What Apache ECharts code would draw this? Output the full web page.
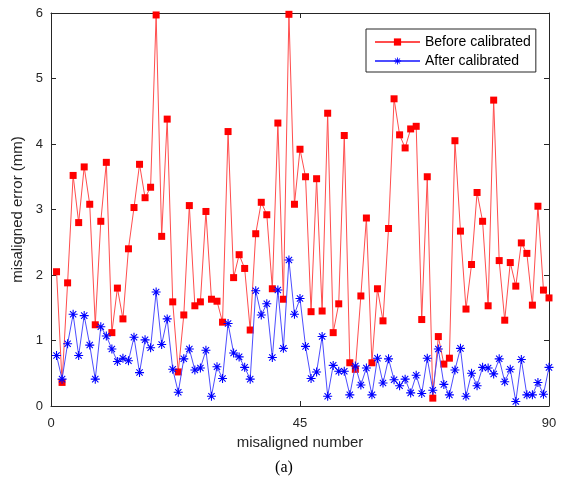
<!DOCTYPE html>
<html>
<head>
<meta charset="utf-8">
<script src="https://cdn.jsdelivr.net/npm/echarts@6/dist/echarts.min.js"></script>
<style>
	html, body { margin: 0; padding: 0; background: #fff; }
	#chart { width: 568px; height: 486px; }
</style>
</head>
<body>
<div id="chart"></div>
<script>
// values, index 1..90
const beforeCalibrated = [
	2.05, 0.36, 1.88, 3.52, 2.80, 3.65, 3.08, 1.24, 2.82, 3.72,
	1.12, 1.80, 1.33, 2.40, 3.03, 3.69, 3.18, 3.34, 5.97, 2.59,
	4.38, 1.59, 0.52, 1.39, 3.06, 1.53, 1.59, 2.97, 1.63, 1.60,
	1.28, 4.19, 1.96, 2.31, 2.10, 1.16, 2.63, 3.11, 2.92, 1.79,
	4.32, 1.63, 5.98, 3.08, 3.92, 3.50, 1.44, 3.47, 1.45, 4.47,
	1.12, 1.56, 4.13, 0.66, 0.56, 1.68, 2.87, 0.66, 1.79, 1.30,
	2.71, 4.69, 4.14, 3.94, 4.23, 4.27, 1.32, 3.50, 0.12, 1.06,
	0.64, 0.73, 4.05, 2.67, 1.48, 2.16, 3.26, 2.82, 1.53, 4.67,
	2.22, 1.31, 2.19, 1.83, 2.49, 2.33, 1.54, 3.05, 1.77, 1.65
];
const afterCalibrated = [
	0.77, 0.41, 0.95, 1.40, 0.77, 1.38, 0.93, 0.41, 1.21, 1.07,
	0.87, 0.68, 0.73, 0.69, 1.05, 0.51, 1.01, 0.89, 1.74, 0.94,
	1.33, 0.56, 0.21, 0.72, 0.87, 0.55, 0.58, 0.85, 0.15, 0.60,
	0.42, 1.26, 0.81, 0.75, 0.59, 0.41, 1.76, 1.39, 1.56, 0.74,
	1.77, 0.88, 2.23, 1.40, 1.64, 0.91, 0.42, 0.52, 1.06, 0.15,
	0.62, 0.53, 0.53, 0.17, 0.61, 0.32, 0.58, 0.17, 0.73, 0.35,
	0.72, 0.40, 0.31, 0.41, 0.20, 0.47, 0.19, 0.73, 0.24, 0.87,
	0.33, 0.17, 0.55, 0.88, 0.15, 0.50, 0.31, 0.59, 0.58, 0.49,
	0.72, 0.37, 0.56, 0.07, 0.71, 0.17, 0.17, 0.36, 0.18, 0.59
];
const xTicks = [0, 45, 90];
const yTicks = [0, 1, 2, 3, 4, 5, 6];

const FONT = '"Liberation Sans", Arial, sans-serif';
const AXIS_COLOR = '#262626';
// asterisk built from thin filled bars so it draws the same in the legend
const ASTERISK = 'path://M0,4.4L10,4.4L10,5.6L0,5.6Z' +
	'M4.4,0L5.6,0L5.6,10L4.4,10Z' +
	'M1.92,1.08L8.92,8.08L8.08,8.92L1.08,1.92Z' +
	'M8.92,1.92L1.92,8.92L1.08,8.08L8.08,1.08Z';

function toPoints(values) {
	return values.map((v, i) => [i + 1, v]);
}

function boxAxis(base, extra) {
	return Object.assign({
		type: 'value',
		axisLine: { show: true, onZero: false, lineStyle: { color: AXIS_COLOR, width: 1 } },
		axisTick: { show: true, inside: true, length: 5, lineStyle: { color: AXIS_COLOR } },
		splitLine: { show: false },
		axisLabel: { show: false }
	}, base, extra);
}

const xRange = { min: xTicks[0], max: xTicks[xTicks.length - 1], interval: xTicks[1] - xTicks[0] };
const yRange = { min: yTicks[0], max: yTicks[yTicks.length - 1], interval: yTicks[1] - yTicks[0] };

const chart = echarts.init(document.getElementById('chart'));

chart.setOption({
	animation: false,
	backgroundColor: '#fff',
	textStyle: { fontFamily: FONT },
	title: {
		text: '(a)',
		left: 'center',
		top: 455,
		textStyle: { fontFamily: '"Liberation Serif", "Times New Roman", serif', fontSize: 16, fontWeight: 'normal', color: '#000' }
	},
	grid: { left: 51, right: 19, top: 13, bottom: 80 },
	legend: {
		left: 366,
		top: 29,
		orient: 'vertical',
		backgroundColor: '#fff',
		borderColor: AXIS_COLOR,
		borderWidth: 1,
		borderRadius: 0,
		padding: [6, 5, 4, 8],
		itemGap: 5,
		itemWidth: 45,
		itemHeight: 9,
		textStyle: { fontFamily: FONT, fontSize: 14, color: '#000' },
		data: ['Before calibrated', 'After calibrated']
	},
	xAxis: [
		boxAxis(xRange, {
			position: 'bottom',
			name: 'misaligned number',
			nameLocation: 'middle',
			nameGap: 29,
			nameTextStyle: { fontFamily: FONT, fontSize: 15, color: '#262626' },
			axisLabel: { show: true, fontFamily: FONT, fontSize: 13, color: '#262626', margin: 11 }
		}),
		boxAxis(xRange, { position: 'top' })
	],
	yAxis: [
		boxAxis(yRange, {
			position: 'left',
			name: 'misaligned error (mm)',
			nameLocation: 'middle',
			nameGap: 26,
			nameTextStyle: { fontFamily: FONT, fontSize: 15, color: '#262626' },
			axisLabel: { show: true, fontFamily: FONT, fontSize: 13, color: '#262626', margin: 8 }
		}),
		boxAxis(yRange, { position: 'right' })
	],
	series: [
		{
			name: 'Before calibrated',
			type: 'line',
			data: toPoints(beforeCalibrated),
			symbol: 'rect',
			symbolSize: 7,
			showAllSymbol: true,
			lineStyle: { color: '#ff4d4d', width: 1 },
			itemStyle: { color: '#ff0000' },
			z: 2
		},
		{
			name: 'After calibrated',
			type: 'line',
			data: toPoints(afterCalibrated),
			symbol: ASTERISK,
			symbolSize: 9,
			showAllSymbol: true,
			lineStyle: { color: '#4d4dff', width: 1 },
			itemStyle: { color: '#0000ff' },
			z: 3
		}
	]
});
</script>
</body>
</html>
